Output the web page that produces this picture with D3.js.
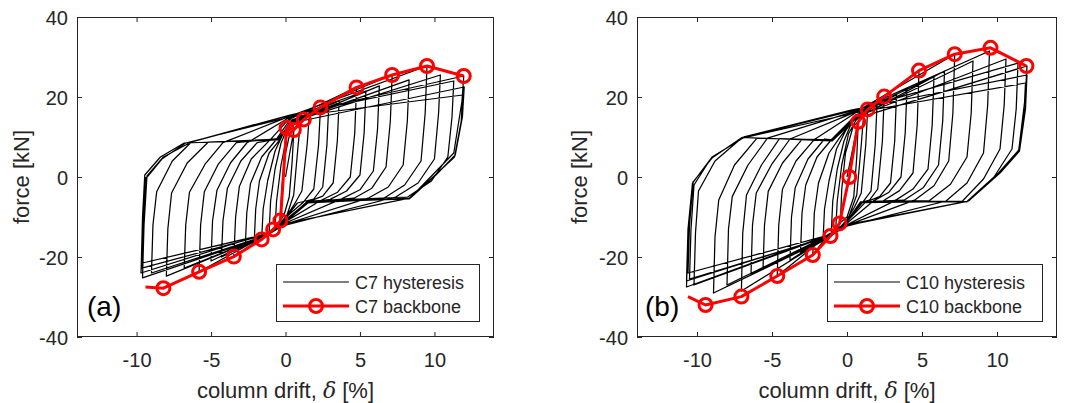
<!DOCTYPE html>
<html><head><meta charset="utf-8">
<script src="https://cdn.jsdelivr.net/npm/d3@7"></script>
<style>
html,body{margin:0;padding:0;background:#fff;}
svg{display:block;font-family:Arial,"Liberation Sans",Helvetica,sans-serif;}
</style></head><body>
<svg id="chart" width="1065" height="403"></svg>
<script>
// ---------------- data ----------------
const xTicks = [-10, -5, 0, 5, 10];
const xTickLabels = ["-10", "-5", "0", "5", "10"];
const yTicks = [-40, -20, 0, 20, 40];
const yTickLabels = ["-40", "-20", "0", "20", "40"];
const xDomain = [-14, 14];
const yDomain = [-40, 40];
const yAxisTitle = "force [kN]";
const xAxisTitleMain = "column drift, ";
const xAxisTitleSym = "δ";
const xAxisTitleUnit = " [%]";
const panelLetters = ["(a)", "(b)"];
const legendHysteresis = ["C7 hysteresis", "C10 hysteresis"];
const legendBackbone = ["C7 backbone", "C10 backbone"];

// backbone (drift %, force kN); first point drawn without marker
const c7BackboneDrift = [-9.4, -8.2, -5.8, -3.47, -1.6, -0.83, -0.34, 0.07, 0.56, 1.23, 2.35, 4.77, 7.16, 9.5, 11.97];
const c7BackboneForce = [-27.5, -27.8, -23.7, -19.9, -15.6, -13.1, -10.9, 12.3, 11.75, 14.4, 17.4, 22.4, 25.5, 27.75, 25.25];
const c10BackboneDrift = [-10.6, -9.43, -7.04, -4.65, -2.28, -1.1, -0.5, 0.15, 0.75, 1.38, 2.48, 4.8, 7.18, 9.57, 11.96];
const c10BackboneForce = [-29.9, -32.0, -29.9, -24.75, -19.5, -14.75, -11.6, 0.0, 13.8, 16.9, 20.1, 26.6, 30.7, 32.3, 27.75];

// hysteresis: cycles of [drift %, force kN], traced in order
const c7Hysteresis = [
 [[0,0],[0.56,11.75],[0.45,4],[0.25,-5],[-0.1,-9.5],[-0.34,-10.9],[-0.25,-3],[0.0,6],[0.3,11]],
 [[1.0,13.6],[0.85,8],[0.55,-4.5],[0.1,-9.5],[-0.4,-11.8],[-0.7,-12.6],[-0.6,-6],[-0.3,3],[0.1,10.5],[0.45,13.2]],
 [[1.6,15.4],[1.45,8],[1.1,-3.5],[0.6,-6.8],[-0.1,-10.8],[-0.6,-12.8],[-1.1,-13.9],[-1.0,-6],[-0.7,2],[-0.3,8.5],[0.2,12.8],[0.6,14.3]],
 [[2.35,17.4],[2.22,8],[1.9,-3],[1.2,-6.3],[0.2,-9.5],[-0.3,-11.8],[-1.0,-14.0],[-1.6,-15.6],[-1.5,-8],[-1.2,-1],[-0.7,6.5],[-0.2,10.5],[0.4,14.2]],
 [[2.9,17.6],[2.78,8],[2.5,-2.5],[1.9,-5.5],[0.8,-6.5],[-0.2,-11.2],[-1.2,-14.2],[-2.1,-16.0],[-2.0,-8],[-1.75,-1],[-1.1,6.0],[-0.4,9.2],[0.3,13.8]],
 [[3.6,19.0],[3.48,9],[3.2,-1.5],[2.5,-4.8],[1.5,-6.2],[-0.1,-11.0],[-1.2,-14.0],[-2.7,-17.3],[-2.6,-9],[-2.35,-1.6],[-1.6,5.0],[-0.7,9.0],[0.35,14.6]],
 [[4.77,22.4],[4.65,11],[4.35,0],[3.5,-3.8],[2.4,-5.8],[-0.2,-11.6],[-1.2,-14.2],[-3.47,-19.9],[-3.35,-10],[-3.1,-2.4],[-2.3,4.5],[-1.0,9.4],[0.3,14.8]],
 [[5.4,21.5],[5.28,11],[5.0,0.5],[4.1,-3.5],[3.0,-5.6],[1.5,-6.4],[-0.1,-11.0],[-1.3,-14.4],[-4.3,-20.0],[-4.2,-11],[-3.9,-2.8],[-3.0,4.0],[-1.9,8.6],[-0.5,9.5],[0.4,13.6]],
 [[6.3,22.8],[6.18,12],[5.9,1.5],[5.0,-3.2],[3.8,-5.4],[-0.2,-11.8],[-1.2,-14.3],[-5.0,-21.0],[-4.9,-11],[-4.6,-3.3],[-3.7,3.5],[-2.6,8.5],[0.3,15.0]],
 [[7.16,25.5],[7.04,14],[6.75,2.5],[5.8,-2.8],[4.6,-5.3],[1.5,-6.3],[-0.1,-11.0],[-1.3,-14.5],[-5.8,-23.7],[-5.7,-12],[-5.45,-3.7],[-4.5,3.3],[-3.3,8.6],[-0.5,9.6],[0.4,13.8]],
 [[8.3,24.3],[8.18,14],[7.9,3],[6.9,-2.5],[5.6,-5.2],[-0.2,-12.0],[-1.2,-14.4],[-6.8,-22.8],[-6.7,-12],[-6.45,-3.8],[-5.4,3.2],[-4.2,8.6],[0.3,15.2]],
 [[9.5,27.75],[9.38,16],[9.1,4],[8.0,-2],[6.6,-5.3],[1.5,-6.2],[-0.1,-11.2],[-1.3,-14.6],[-8.0,-24.8],[-7.9,-13],[-7.65,-4],[-6.6,3.5],[-5.2,8.7],[-0.5,9.5],[0.4,13.8]],
 [[10.4,25.5],[10.28,16],[10.0,4.5],[8.9,-1.5],[7.4,-5.0],[-0.2,-12.2],[-1.2,-14.5],[-9.0,-24.0],[-8.9,-12],[-8.65,-3.7],[-7.6,4.0],[-6.3,8.8],[0.3,15.4]],
 [[11.3,24.0],[11.18,15],[10.9,5],[9.8,-1],[8.2,-5.0],[1.5,-6.0],[-0.1,-11.3],[-1.3,-14.8],[-9.6,-25.2],[-9.5,-12],[-9.3,0.3],[-8.2,5.0],[-6.3,8.8],[0.3,15.5]],
 [[11.97,25.25],[11.85,19],[11.3,6],[10.0,1.0],[8.3,-5.5],[1.5,-6.3],[-0.2,-11.5],[-1.2,-14.0],[-9.7,-24.0],[-9.6,-10],[-9.45,0.5],[-8.4,5.0],[-6.8,8.5],[-0.5,9.3],[0.4,13.5]],
 [[12.0,22.5],[11.88,15],[11.4,5.5],[10.1,0.5],[8.4,-5.2],[-0.2,-11.8],[-1.2,-14.3],[-9.65,-22.8],[-9.55,-10],[-9.4,-0.5],[-8.3,4.5],[-6.7,8.5],[0.3,15.0]],
 [[11.9,20.5],[11.8,14],[11.35,5],[10.0,0.3],[8.3,-5.3],[1.5,-6.5],[-0.1,-11.5],[-1.2,-14.2],[-9.6,-21.5],[-9.5,-8],[-9.4,0.0]]
];

const c10Hysteresis = [
 [[0,0],[0.75,13.8],[0.65,5],[0.45,-5],[0.0,-10],[-0.44,-11.4],[-0.35,-3],[-0.1,6],[0.4,12.5]],
 [[1.1,15.2],[0.95,8],[0.65,-4.5],[0.1,-10.2],[-0.4,-12.3],[-0.75,-13.0],[-0.65,-6],[-0.35,3],[0.1,10.8],[0.6,14.2]],
 [[1.38,16.9],[1.25,8],[0.95,-4],[0.5,-7.5],[-0.1,-11.2],[-0.6,-13.3],[-1.06,-14.75],[-0.95,-6],[-0.65,2],[-0.2,9],[0.3,13.5],[0.7,15.2]],
 [[2.0,18.0],[1.88,8],[1.6,-3.5],[1.0,-6.5],[0.1,-10.5],[-0.4,-12.5],[-1.1,-14.5],[-1.6,-16.0],[-1.5,-8],[-1.2,-1],[-0.7,7],[-0.1,11.5],[0.6,15.3]],
 [[2.48,20.1],[2.36,9],[2.05,-3],[1.5,-5.8],[0.9,-6.4],[-0.1,-11.6],[-1.3,-14.6],[-2.28,-19.5],[-2.18,-9],[-1.9,-1.5],[-1.2,6.0],[-0.5,9.8],[0.55,15.0]],
 [[3.3,20.6],[3.18,9],[2.9,-1.5],[2.2,-4.8],[1.2,-6.4],[-0.1,-11.5],[-1.3,-14.5],[-3.1,-18.8],[-3.0,-9],[-2.75,-2.0],[-2.0,5.0],[-1.0,9.5],[0.6,15.5]],
 [[4.0,22.0],[3.88,11],[3.6,0],[2.8,-3.8],[1.8,-5.9],[-0.15,-12.0],[-1.3,-14.8],[-3.8,-20.8],[-3.7,-10],[-3.45,-2.6],[-2.6,4.5],[-1.5,9.5],[-0.9,9.3],[0.6,14.8]],
 [[4.8,26.6],[4.68,13],[4.4,1],[3.5,-3.4],[2.4,-6.0],[0.9,-6.2],[-0.1,-11.5],[-1.3,-14.6],[-4.65,-24.75],[-4.55,-12],[-4.3,-3.0],[-3.4,4.0],[-2.2,9.3],[0.55,16.0]],
 [[5.8,25.0],[5.68,13],[5.4,2],[4.4,-3.0],[3.2,-5.9],[-0.15,-12.2],[-1.3,-15.0],[-5.6,-23.0],[-5.5,-12],[-5.25,-3.6],[-4.3,3.5],[-3.0,9.4],[-1.0,9.0],[0.6,14.6]],
 [[6.5,26.5],[6.38,14],[6.1,3],[5.1,-2.6],[3.8,-5.8],[0.9,-6.2],[-0.1,-11.6],[-1.3,-14.8],[-6.4,-24.3],[-6.3,-12],[-6.05,-4.0],[-5.0,3.3],[-3.8,9.5],[0.55,16.2]],
 [[7.18,30.7],[7.06,16],[6.78,4],[5.8,-2.2],[4.5,-5.8],[-0.15,-12.3],[-1.3,-15.2],[-7.04,-28.5],[-6.95,-14],[-6.7,-4.5],[-5.7,3.0],[-4.5,9.6],[-1.0,9.2],[0.6,14.8]],
 [[8.4,29.0],[8.28,16],[8.0,5],[6.9,-1.8],[5.5,-5.9],[0.9,-6.2],[-0.1,-11.5],[-1.3,-14.7],[-8.0,-27.0],[-7.9,-13],[-7.65,-4.9],[-6.6,3.0],[-5.3,9.7],[0.5,16.4]],
 [[9.5,31.5],[9.38,18],[9.1,6],[8.0,-1.5],[6.6,-6.0],[-0.15,-12.4],[-1.3,-15.3],[-8.9,-29.0],[-8.8,-15],[-8.55,-5.75],[-7.5,3.0],[-6.0,9.7],[-1.0,9.3],[0.6,15.0]],
 [[10.6,29.5],[10.48,18],[10.2,7],[9.1,-0.5],[7.7,-6.0],[0.9,-6.2],[-0.1,-11.6],[-1.3,-14.8],[-10.2,-27.0],[-10.1,-14],[-9.9,-3.5],[-8.8,4.0],[-7.0,9.8],[0.4,16.6]],
 [[11.4,28.5],[11.28,17],[11.0,7],[9.8,0],[8.0,-6.1],[-0.15,-12.2],[-1.3,-15.0],[-10.5,-25.5],[-10.4,-13],[-10.2,-2.0],[-9.1,4.5],[-7.0,9.9],[-1.0,9.0],[0.6,14.6]],
 [[12.0,27.75],[11.88,20],[11.45,6.75],[10.1,1.0],[8.0,-6.2],[0.93,-6.2],[-0.1,-11.5],[-1.3,-14.6],[-10.7,-27.5],[-10.6,-14],[-10.25,-1.2],[-8.9,5.2],[-6.8,10.1],[0.27,16.75]],
 [[12.0,25.5],[11.9,17],[11.5,6.5],[10.2,1.0],[8.1,-6.0],[-0.15,-12.0],[-1.3,-14.9],[-10.7,-26.0],[-10.6,-13],[-10.3,-1.5],[-9.0,5.0],[-6.9,9.8],[0.5,16.0]],
 [[11.9,23.5],[11.8,16],[11.45,6.5],[10.1,0.8],[8.0,-6.1],[0.9,-6.4],[-0.1,-11.6],[-1.3,-14.6],[-10.6,-24.0],[-10.5,-12],[-10.25,-1.0]]
];

// ---------------- drawing ----------------
const svg = d3.select("#chart");
const axisColor = "#262626";
const panels = [
  {left: 77, right: 494, top: 17, bottom: 337, hyst: c7Hysteresis, bbX: c7BackboneDrift, bbY: c7BackboneForce,
   letter: panelLetters[0], letterX: 87, legL: 276, legW: 203, leg: 0, ylabX: 29},
  {left: 637, right: 1057, top: 17, bottom: 337, hyst: c10Hysteresis, bbX: c10BackboneDrift, bbY: c10BackboneForce,
   letter: panelLetters[1], letterX: 645, legL: 827, legW: 215, leg: 1, ylabX: 587}
];

panels.forEach(p => {
  const x = d3.scaleLinear().domain(xDomain).range([p.left, p.right]);
  const y = d3.scaleLinear().domain(yDomain).range([p.bottom, p.top]);
  const g = svg.append("g");
  const clipId = "clip" + p.leg;
  svg.append("clipPath").attr("id", clipId).append("rect")
    .attr("x", p.left).attr("y", p.top).attr("width", p.right - p.left).attr("height", p.bottom - p.top);

  // axes (ticks inward on all four sides)
  const tickLen = 5;
  const bottomAx = g.append("g").attr("transform", `translate(0,${p.bottom})`)
    .call(d3.axisBottom(x).tickValues(xTicks).tickSize(-tickLen).tickPadding(16)
      .tickFormat((d, i) => xTickLabels[i]));
  const topAx = g.append("g").attr("transform", `translate(0,${p.top})`)
    .call(d3.axisTop(x).tickValues(xTicks).tickSize(-tickLen).tickFormat(""));
  const leftAx = g.append("g").attr("transform", `translate(${p.left},0)`)
    .call(d3.axisLeft(y).tickValues(yTicks).tickSize(-tickLen).tickPadding(9)
      .tickFormat((d, i) => yTickLabels[i]));
  const rightAx = g.append("g").attr("transform", `translate(${p.right},0)`)
    .call(d3.axisRight(y).tickValues(yTicks).tickSize(-tickLen).tickFormat(""));
  [bottomAx, topAx, leftAx, rightAx].forEach(a => {
    a.select(".domain").remove();
    a.selectAll("line").attr("stroke", axisColor).attr("stroke-width", 1);
    a.selectAll("text").attr("fill", axisColor).style("font-size", "20px")
      .style("font-family", "Arial, 'Liberation Sans', sans-serif");
  });
  bottomAx.selectAll("text").attr("dy", "0.71em");
  leftAx.selectAll("text").attr("dy", "0.35em");

  // hysteresis
  const pts = [].concat(...p.hyst);
  const line = d3.line().x(d => x(d[0])).y(d => y(d[1]));
  g.append("path").datum(pts).attr("d", line).attr("clip-path", `url(#${clipId})`)
    .attr("fill", "none").attr("stroke", "#000").attr("stroke-width", 1.25)
    .attr("stroke-linejoin", "round");

  // backbone
  const bb = p.bbX.map((v, i) => [v, p.bbY[i]]);
  g.append("path").datum(bb).attr("d", line).attr("fill", "none")
    .attr("stroke", "#ff0000").attr("stroke-width", 3).attr("stroke-linejoin", "round");
  g.selectAll("circle.bb").data(bb.slice(1)).enter().append("circle")
    .attr("class", "bb").attr("cx", d => x(d[0])).attr("cy", d => y(d[1])).attr("r", 6.5)
    .attr("fill", "none").attr("stroke", "#ff0000").attr("stroke-width", 3);

  // box
  g.append("rect").attr("x", p.left + 0.5).attr("y", p.top + 0.5)
    .attr("width", p.right - p.left - 1).attr("height", p.bottom - p.top - 1)
    .attr("fill", "none").attr("stroke", axisColor).attr("stroke-width", 1);

  // axis titles
  const xt = g.append("text").attr("x", (p.left + p.right) / 2).attr("y", 398)
    .attr("text-anchor", "middle").attr("fill", axisColor).style("font-size", "22px");
  xt.append("tspan").text(xAxisTitleMain);
  xt.append("tspan").text(xAxisTitleSym).style("font-style", "italic")
    .style("font-family", "'DejaVu Serif', 'Liberation Serif', serif");
  xt.append("tspan").text(xAxisTitleUnit);
  g.append("text").attr("transform", `translate(${p.ylabX},${(p.top + p.bottom) / 2}) rotate(-90)`)
    .attr("text-anchor", "middle").attr("fill", axisColor).style("font-size", "22px").text(yAxisTitle);

  // panel letter
  g.append("text").attr("x", p.letterX).attr("y", 316).attr("fill", "#000")
    .style("font-size", "28px").text(p.letter);

  // legend
  const lg = g.append("g");
  lg.append("rect").attr("x", p.legL + 0.5).attr("y", 264.5).attr("width", p.legW).attr("height", 57)
    .attr("fill", "#fff").attr("stroke", axisColor).attr("stroke-width", 1);
  const lx0 = p.legL + 7, lx1 = p.legL + 73;
  lg.append("line").attr("x1", lx0).attr("x2", lx1).attr("y1", 282).attr("y2", 282)
    .attr("stroke", "#000").attr("stroke-width", 1);
  lg.append("line").attr("x1", lx0).attr("x2", lx1).attr("y1", 306).attr("y2", 306)
    .attr("stroke", "#ff0000").attr("stroke-width", 3);
  lg.append("circle").attr("cx", (lx0 + lx1) / 2).attr("cy", 306).attr("r", 6.5)
    .attr("fill", "none").attr("stroke", "#ff0000").attr("stroke-width", 3);
  lg.append("text").attr("x", lx1 + 6).attr("y", 288.5).attr("fill", axisColor)
    .style("font-size", "18px").text(legendHysteresis[p.leg]);
  lg.append("text").attr("x", lx1 + 6).attr("y", 312.5).attr("fill", axisColor)
    .style("font-size", "18px").text(legendBackbone[p.leg]);
});
</script>
</body></html>
